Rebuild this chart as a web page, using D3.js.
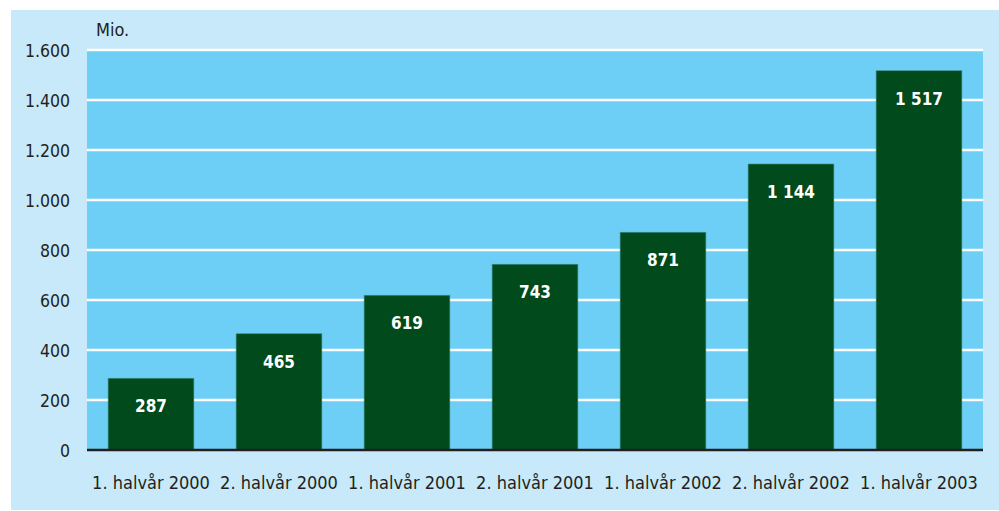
<!DOCTYPE html>
<html>
<head>
<meta charset="utf-8">
<script src="https://cdn.jsdelivr.net/npm/d3@7"></script>
<style>
body { margin: 0; background: #fff; }
text { font-family: "DejaVu Sans Condensed", "DejaVu Sans", sans-serif; font-stretch: condensed; fill: #231f20; }
</style>
</head>
<body>
<script>
(function(){

//chart data
var categories = ["1. halvår 2000", "2. halvår 2000", "1. halvår 2001", "2. halvår 2001",
                  "1. halvår 2002", "2. halvår 2002", "1. halvår 2003"];
var values = [287, 465, 619, 743, 871, 1144, 1517];
var valueLabels = ["287", "465", "619", "743", "871", "1 144", "1 517"];
var yTicks = [0, 200, 400, 600, 800, 1000, 1200, 1400, 1600];
var yTickLabels = ["0", "200", "400", "600", "800", "1.000", "1.200", "1.400", "1.600"];
var unitLabel = "Mio.";

window.onload = drawChart();

function drawChart(){
    var width = 999,
        height = 511;

    var svg = d3.select("body")
        .append("svg")
        .attr("width", width)
        .attr("height", height);

    //outer light panel
    svg.append("rect")
        .attr("x", 11)
        .attr("y", 10)
        .attr("width", width - 11)
        .attr("height", height - 11)
        .attr("fill", "#c7e9f9");

    var plot = {left: 87, right: 983, top: 50, bottom: 450};

    var x = d3.scaleBand()
        .domain(categories)
        .range([plot.left, plot.right])
        .paddingInner(0.33)
        .paddingOuter(0.165);

    var y = d3.scaleLinear()
        .domain([0, 1600])
        .range([plot.bottom, plot.top]);

    //plot background
    svg.append("rect")
        .attr("x", plot.left)
        .attr("y", plot.top)
        .attr("width", plot.right - plot.left)
        .attr("height", plot.bottom - plot.top)
        .attr("fill", "#6dcff6");

    //gridlines
    svg.selectAll(".grid")
        .data(yTicks.slice(1))
        .enter()
        .append("line")
        .attr("class", "grid")
        .attr("x1", plot.left)
        .attr("x2", plot.right)
        .attr("y1", function(d){ return y(d); })
        .attr("y2", function(d){ return y(d); })
        .attr("stroke", "#ffffff")
        .attr("stroke-width", 2.5);

    //bars
    svg.selectAll(".bar")
        .data(values)
        .enter()
        .append("rect")
        .attr("class", "bar")
        .attr("x", function(d, i){ return x(categories[i]); })
        .attr("y", function(d){ return y(d); })
        .attr("width", x.bandwidth())
        .attr("height", function(d){ return y(0) - y(d); })
        .attr("fill", "#004a1b")
        .attr("stroke", "#3a8f86")
        .attr("stroke-width", 0.6);

    //value labels in bars
    svg.selectAll(".valLabel")
        .data(values)
        .enter()
        .append("text")
        .attr("class", "valLabel")
        .attr("x", function(d, i){ return x(categories[i]) + x.bandwidth() / 2; })
        .attr("y", function(d){ return y(d) + 34; })
        .attr("text-anchor", "middle")
        .style("fill", "#ffffff")
        .style("font-weight", "bold")
        .style("font-size", "17px")
        .text(function(d, i){ return valueLabels[i]; });

    //zero axis line
    svg.append("line")
        .attr("x1", plot.left)
        .attr("x2", plot.right)
        .attr("y1", y(0))
        .attr("y2", y(0))
        .attr("stroke", "#231f20")
        .attr("stroke-width", 2.5);

    //y axis labels
    var yAxis = d3.axisLeft(y)
        .tickValues(yTicks)
        .tickSize(0)
        .tickPadding(17)
        .tickFormat(function(d, i){ return yTickLabels[i]; });

    var yG = svg.append("g")
        .attr("transform", "translate(" + plot.left + ",0)")
        .attr("font-family", null)
        .call(yAxis);
    yG.select(".domain").remove();
    yG.selectAll("text")
        .style("font-size", "17.5px")
        .attr("dy", "0.36em");

    //x axis labels
    var xAxis = d3.axisBottom(x)
        .tickSize(0)
        .tickPadding(26);

    var xG = svg.append("g")
        .attr("transform", "translate(0," + plot.bottom + ")")
        .attr("font-family", null)
        .call(xAxis);
    xG.select(".domain").remove();
    xG.selectAll("text")
        .style("font-size", "18px");

    //unit label
    svg.append("text")
        .attr("x", 96)
        .attr("y", 36)
        .style("font-size", "18px")
        .text(unitLabel);
};

})();
</script>
</body>
</html>
